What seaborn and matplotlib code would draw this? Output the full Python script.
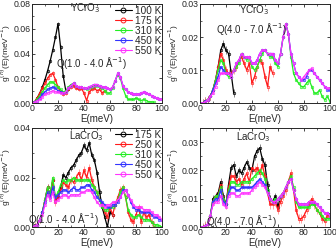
import numpy as np
import pandas as pd
import matplotlib
matplotlib.use("Agg")
import matplotlib.pyplot as plt
from matplotlib.lines import Line2D
from matplotlib.ticker import MultipleLocator, AutoMinorLocator
import seaborn as sns

sns.set_style("ticks")
plt.rcParams["font.family"] = ["Liberation Sans", "DejaVu Sans"]

nan = np.nan

# --- energy grid (meV) --------------------------------------------------------
energy = np.arange(0, 101, 2)

# --- YCrO3, Q(1.0 - 4.0) ------------------------------------------------------
y1_100 = [0, .001, .004, .008, .013, .019, .026, .034, .043, .053, .064, .045, .022, .010, .011] + [nan] * 36
y1_175 = [0, .001, .004, .008, .012, .016, .020, .023, .024, .019, .013, .009, .007, .008, .011, .013,
          .014, .012, .011, .012, .008, .002, .009, .011, .012, .010, .011, .008, .010] + [nan] * 22
y1_310 = [0, .001, .003, .006, .009, .012, .015, .017, .017, .015, .013, .011, .009, .010, .013, .015,
          .016, .014, .013, .013, .012, .011, .012, .013, .014, .014, .013, .012, .010, .008, .008, .012,
          .018, .023, .020, .012, .006, .003, .003, .003, .004, .003, .002, .003, .002, .001, .001, .0005,
          nan, nan, nan]
y1_450 = [0, .001, .002, .004, .007, .009, .011, .012, .013, .012, .010, .009, .008, .009, .012, .014,
          .016, .014, .013, .013, .012, .012, .013, .014, .015, .015, .014, .013, .013, .012, .011, .013,
          .018, .024, .021, .014, .011, .009, .008, .007, .007, .007, .008, .009, .008, .007, .006, .005,
          .004, .003, .003]
y1_550 = [0, .0005, .002, .003, .005, .007, .008, .009, .010, .009, .009, .008, .008, .009, .012, .014,
          .016, .014, .013, .013, .012, .012, .013, .014, .015, .015, .014, .013, .013, .012, .011, .013,
          .018, .024, .021, .014, .011, .009, .008, .007, .007, .007, .008, .009, .008, .007, .006, .005,
          .004, .003, .003]

# --- YCrO3, Q(4.0 - 7.0) ------------------------------------------------------
y2_100 = [0, 0, .0005, .001, .002, .004, .007, .011, .016, .018, .016, .015, .009, .003] + [nan] * 37
y2_175 = [0, 0, .0005, .001, .002, .004, .007, .011, .015, .013, .010, .009, .009, .010, .011, .013,
          .014, .012, .010, .012, .006, .008, .011, .013, .012, .008, .005, .011, .009] + [nan] * 22
y2_310 = [0, 0, .0005, .001, .002, .004, .007, .010, .013, .012, .009, .008, .008, .010, .011, .012,
          .015, .014, .013, .014, .011, .010, .011, .013, .015, .016, .015, .014, .014, .012, .011, .015,
          .020, .024, .021, .014, .009, .007, .006, .005, .005, .006, .007, .005, .003, .003, .004, .002,
          .001, .002, .0005]
y2_450 = [0, 0, .0005, .001, .002, .004, .006, .008, .011, .010, .009, .009, .008, .010, .012, .013,
          .015, .014, .014, .014, .012, .012, .013, .015, .016, .016, .015, .015, .015, .013, .012, .015,
          .020, .024, .021, .015, .012, .009, .008, .007, .007, .008, .010, .010, .009, .008, .007, .006,
          .005, .004, .004]
y2_550 = [0, 0, .0003, .001, .002, .003, .005, .007, .009, .009, .009, .009, .008, .010, .012, .013,
          .015, .014, .014, .014, .012, .012, .013, .015, .016, .016, .015, .015, .015, .013, .012, .015,
          .020, .024, .021, .015, .012, .009, .008, .007, .008, .009, .010, .0105, .009, .008, .007, .006,
          .005, .0045, .0045]

# --- LaCrO3, Q(1.0 - 4.0) -----------------------------------------------------
l1_175 = [0, .0005, .001, .003, .006, .011, .016, .013, .019, .011, .012, .016, .021, .020, .022, .024,
          .025, .027, .029, .030, .033, .031, .034, .029, .027, .022, .014, .008, .004, .000, .006, .005] + [nan] * 19
l1_250 = [0, .0005, .001, .003, .006, .011, .016, .013, .019, .010, .012, .015, .018, .017, .016, .019,
          .018, .020, .022, .019, .023, .020, .024, .019, .016, .014, .011, .009, .006, .004, .008, .005,
          .009, .012, .015, .016, .012, .006, .003, .002, .005, .008, .002, .006, .004, .005, .002, .001,
          nan, nan, nan]
l1_310 = [0, .0005, .001, .003, .006, .011, .016, .013, .020, .012, .014, .017, .019, .018, .019, .019,
          .020, .019, .019, .019, .019, .019, .019, .017, .016, .014, .011, .008, .007, .007, .008, .008,
          .009, .011, .014, .016, .012, .007, .005, .004, .004, .005, .004, .003, .003, .003, .002, .001,
          .001, .0005, 0]
l1_450 = [0, .0005, .001, .003, .006, .010, .014, .012, .016, .012, .013, .014, .015, .015, .014, .015,
          .016, .015, .015, .016, .016, .017, .017, .015, .014, .012, .011, .010, .009, .008, .008, .009,
          .009, .010, .012, .015, .015, .013, .010, .008, .007, .007, .006, .006, .006, .006, .005, .004,
          .004, .003, .003]
l1_550 = [0, .0005, .001, .003, .005, .009, .013, .011, .014, .010, .011, .012, .013, .013, .012, .013,
          .013, .013, .013, .014, .014, .015, .015, .014, .012, .010, .009, .009, .008, .009, .009, .010,
          .010, .011, .012, .014, .015, .013, .011, .009, .008, .008, .008, .007, .007, .007, .006, .005,
          .005, .004, .003]

# --- LaCrO3, Q(4.0 - 7.0) -----------------------------------------------------
l2_175 = [0, 0, .0005, .001, .004, .010, .011, .012, .016, .011, .008, .015, .021, .022, .018, .020,
          .019, .021, .023, .021, .020, .025, .027, .028, .024, .022, .015, .010, .009, .011, .007, .011] + [nan] * 19
l2_250 = [0, 0, .0005, .001, .004, .009, .011, .011, .015, .010, .008, .014, .018, .018, .016, .017,
          .015, .017, .019, .016, .021, .020, .021, .019, .022, .018, .012, .008, .008, .009, .006, .009,
          .011, .013, .016, .019, .013, .006, .003, .003, .004, .006, .008, .010, .008, .006, .005, .003,
          .002, .004, .004]
l2_310 = [0, 0, .0005, .001, .004, .009, .011, .011, .014, .010, .008, .013, .016, .016, .015, .015,
          .016, .016, .016, .016, .017, .018, .019, .020, .019, .017, .013, .010, .009, .010, .010, .011,
          .012, .014, .016, .018, .014, .009, .007, .007, .007, .007, .007, .008, .008, .006, .005, .004,
          .003, .003, .003]
l2_450 = [0, 0, .0005, .001, .004, .009, .010, .010, .013, .009, .008, .012, .014, .014, .013, .013,
          .014, .014, .014, .014, .014, .015, .016, .017, .016, .015, .012, .010, .009, .009, .010, .011,
          .012, .014, .016, .017, .013, .010, .008, .008, .008, .008, .009, .009, .009, .008, .007, .006,
          .005, .005, .004]
l2_550 = [0, 0, .0005, .001, .004, .008, .009, .009, .011, .008, .007, .011, .012, .012, .011, .011,
          .012, .012, .012, .012, .013, .014, .015, .016, .015, .014, .012, .010, .009, .009, .010, .011,
          .012, .014, .016, .017, .013, .010, .008, .008, .008, .008, .009, .009, .009, .008, .007, .006,
          .005, .005, .004]

# rough error bar size per temperature (low T data are noisier)
err_y1 = [.0015, .0015, .0006, .0004, .0004]
err_y2 = [.0012, .0012, .0004, .0003, .0003]
err_l1 = [.0012, .0015, .0007, .0004, .0004]
err_l2 = [.0012, .0015, .0006, .0004, .0004]

temps_y = ["100 K", "175 K", "310 K", "450 K", "550 K"]
temps_l = ["175 K", "250 K", "310 K", "450 K", "550 K"]
colors = ["#000000", "#ff1a1a", "#22ee22", "#3333ff", "#ff33ff"]
err_colors = ["#555555", "#ff8080", "#99ff99", "#9999ff", "#ff99ff"]

panels = [
    dict(series=[y1_100, y1_175, y1_310, y1_450, y1_550], temps=temps_y, err=err_y1,
         ylim=0.08, ystep=0.02, name="YCrO$_3$", name_xy=(41, 0.077),
         q="Q(1.0 - 4.0 Å$^{-1}$)", q_xy=(46, 0.032), legend=True),
    dict(series=[y2_100, y2_175, y2_310, y2_450, y2_550], temps=temps_y, err=err_y2,
         ylim=0.03, ystep=0.01, name="YCrO$_3$", name_xy=(41.5, 0.0281),
         q="Q(4.0 - 7.0 Å$^{-1}$)", q_xy=(40, 0.0225), legend=False),
    dict(series=[l1_175, l1_250, l1_310, l1_450, l1_550], temps=temps_l, err=err_l1,
         ylim=0.04, ystep=0.02, name="LaCrO$_3$", name_xy=(42, 0.0366),
         q="Q(1.0 - 4.0 Å$^{-1}$)", q_xy=(24, 0.0034), legend=True),
    dict(series=[l2_175, l2_250, l2_310, l2_450, l2_550], temps=temps_l, err=err_l2,
         ylim=0.035, ystep=0.01, name="LaCrO$_3$", name_xy=(41, 0.0318),
         q="Q(4.0 - 7.0 Å$^{-1}$)", q_xy=(32, 0.0023), legend=False),
]

fig = plt.figure(figsize=(3.36, 2.49), dpi=100)
positions = [
    [0.0952, 0.586, 0.387, 0.398],
    [0.595, 0.586, 0.387, 0.398],
    [0.0952, 0.088, 0.387, 0.398],
    [0.595, 0.088, 0.387, 0.398],
]
legend_anchor = [(0.62, 1.0), None, (0.62, 1.0), None]

for pos, p, anchor in zip(positions, panels, legend_anchor):
    ax = fig.add_axes(pos)
    rows = []
    for t, vals in zip(p["temps"], p["series"]):
        for e, v in zip(energy, vals):
            rows.append((e, v, t))
    df = pd.DataFrame(rows, columns=["E", "g", "T"]).dropna()

    for t, c, ec, er in zip(p["temps"], colors, err_colors, p["err"]):
        sub = df[df["T"] == t]
        ax.errorbar(sub["E"], sub["g"], yerr=er, fmt="none", ecolor=ec,
                    elinewidth=0.5, capsize=0, zorder=1)

    for t, c in zip(p["temps"], colors):
        sub = df[df["T"] == t]
        sns.lineplot(data=sub, x="E", y="g", color=c, marker="o",
                     markersize=1.8, mfc="none", mec=c, mew=0.5,
                     linewidth=0.9, ax=ax, zorder=2)

    ax.set_xlim(0, 100)
    ax.set_ylim(0, p["ylim"])
    ax.xaxis.set_major_locator(MultipleLocator(20))
    ax.xaxis.set_minor_locator(AutoMinorLocator(2))
    ax.yaxis.set_major_locator(MultipleLocator(p["ystep"]))
    ax.yaxis.set_minor_locator(AutoMinorLocator(2))
    ax.yaxis.set_major_formatter(plt.FormatStrFormatter("%.2f"))
    ax.tick_params(which="both", direction="in", labelsize=6.3, pad=1.0,
                   top=True, right=True)
    ax.tick_params(which="major", length=2.5, width=0.6)
    ax.tick_params(which="minor", length=1.5, width=0.5)
    for s in ax.spines.values():
        s.set_linewidth(0.7)
        s.set_visible(True)
    ax.set_xlabel("E(meV)", fontsize=7, labelpad=0.5)
    ax.set_ylabel("g$^{(n)}$(E)(meV$^{-1}$)", fontsize=6)
    ax.yaxis.set_label_coords(-0.145, 0.5)

    ax.text(p["name_xy"][0], p["name_xy"][1], p["name"], fontsize=7,
            ha="center", va="center")
    ax.text(p["q_xy"][0], p["q_xy"][1], p["q"], fontsize=7, ha="center",
            va="center")

    if anchor is not None:
        handles = [Line2D([], [], color=c, marker="o", mfc="none", ms=3.5,
                          mew=0.7, lw=0.8) for c in colors]
        ax.legend(handles, p["temps"], loc="upper left", bbox_to_anchor=anchor,
                  frameon=False, fontsize=7.2, handlelength=1.7,
                  handletextpad=0.3, labelspacing=0.0, borderaxespad=0.0,
                  borderpad=0.2)

fig.savefig("out.png", dpi=100)
